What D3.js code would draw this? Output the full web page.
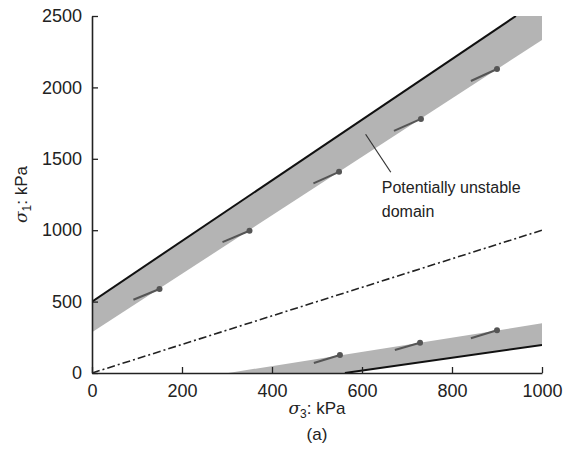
<!DOCTYPE html>
<html>
<head>
<meta charset="utf-8">
<script src="https://cdn.jsdelivr.net/npm/d3@7"></script>
<style>
  html, body { margin: 0; padding: 0; background: #fff; }
  svg { display: block; }
  text { font-family: "Liberation Sans", Arial, sans-serif; fill: #222; }
</style>
</head>
<body>
<script>
// ---- data (kPa) ----
const xTicks = [0, 200, 400, 600, 800, 1000];
const yTicks = [0, 500, 1000, 1500, 2000, 2500];

// upper failure line and grey band (sigma3, sigma1)
const upperLine = [[0, 500], [942, 2500]];
const upperBand = [[0, 500], [942, 2500], [1000, 2500], [1000, 2332], [0, 285]];
// lower failure line and grey band
const lowerLine = [[562, 0], [1000, 196]];
const lowerBand = [[303, 0], [1000, 348], [1000, 196], [562, 0]];
// isotropic line sigma1 = sigma3
const isoLine = [[0, 0], [1000, 1000]];

// stress paths: start and end (dot)
const upperStart3 = [92, 290, 492, 671, 842];
const upperStart1 = [513, 917, 1328, 1695, 2045];
const upperEnd3 = [150, 350, 549, 731, 900];
const upperEnd1 = [588, 996, 1409, 1779, 2129];
const lowerStart3 = [493, 673, 842];
const lowerStart1 = [70, 161, 243];
const lowerEnd3 = [551, 729, 900];
const lowerEnd1 = [126, 212, 299];

const annotationLines = ["Potentially unstable", "domain"];
const leader = [[608, 1672], [664, 1406]];
const annotationAnchor = [644, 1260];

// ---- layout ----
const W = 574, H = 452;
const m = { left: 92, right: 32, top: 16, bottom: 79 };

const svg = d3.select("body").append("svg").attr("width", W).attr("height", H);

const x = d3.scaleLinear().domain([0, 1000]).range([m.left, W - m.right]);
const y = d3.scaleLinear().domain([0, 2500]).range([H - m.bottom, m.top]);

svg.append("defs").append("clipPath").attr("id", "plot")
  .append("rect").attr("x", x(0)).attr("y", y(2500))
  .attr("width", x(1000) - x(0)).attr("height", y(0) - y(2500));

const g = svg.append("g").attr("clip-path", "url(#plot)");
const line = d3.line().x(d => x(d[0])).y(d => y(d[1]));

g.append("path").attr("d", line(upperBand) + "Z").attr("fill", "#b4b4b4");
g.append("path").attr("d", line(lowerBand) + "Z").attr("fill", "#b4b4b4");

g.append("path").attr("d", line(upperLine)).attr("fill", "none")
  .attr("stroke", "#111").attr("stroke-width", 2);
g.append("path").attr("d", line(lowerLine)).attr("fill", "none")
  .attr("stroke", "#111").attr("stroke-width", 2);
g.append("path").attr("d", line(isoLine)).attr("fill", "none")
  .attr("stroke", "#222").attr("stroke-width", 1.6)
  .attr("stroke-dasharray", "8,3,2,3");

function paths(s3, s1, e3, e1) {
  const data = s3.map((v, i) => ({ a: [v, s1[i]], b: [e3[i], e1[i]] }));
  g.selectAll(null).data(data).enter().append("line")
    .attr("x1", d => x(d.a[0])).attr("y1", d => y(d.a[1]))
    .attr("x2", d => x(d.b[0])).attr("y2", d => y(d.b[1]))
    .attr("stroke", "#555").attr("stroke-width", 2);
  g.selectAll(null).data(data).enter().append("circle")
    .attr("cx", d => x(d.b[0])).attr("cy", d => y(d.b[1]))
    .attr("r", 3).attr("fill", "#555");
}
paths(upperStart3, upperStart1, upperEnd3, upperEnd1);
paths(lowerStart3, lowerStart1, lowerEnd3, lowerEnd1);

// annotation
svg.append("line")
  .attr("x1", x(leader[0][0])).attr("y1", y(leader[0][1]))
  .attr("x2", x(leader[1][0])).attr("y2", y(leader[1][1]))
  .attr("stroke", "#333").attr("stroke-width", 1.2);
const at = svg.append("text").attr("x", x(annotationAnchor[0])).attr("y", y(annotationAnchor[1]))
  .attr("font-size", 16);
annotationLines.forEach((t, i) => {
  at.append("tspan").attr("x", x(annotationAnchor[0])).attr("dy", i === 0 ? 0 : 24).text(t);
});

// axes
const fmt = d3.format("d");
const xAxis = d3.axisBottom(x).tickValues(xTicks).tickFormat(fmt).tickSizeInner(-6).tickSizeOuter(0).tickPadding(11);
const yAxis = d3.axisLeft(y).tickValues(yTicks).tickFormat(fmt).tickSizeInner(-6).tickSizeOuter(0).tickPadding(10);

const gx = svg.append("g").attr("transform", `translate(0,${y(0)})`).call(xAxis);
const gy = svg.append("g").attr("transform", `translate(${x(0)},0)`).call(yAxis);
[gx, gy].forEach(a => {
  a.select(".domain").attr("stroke", "#222").attr("stroke-width", 1.6);
  a.selectAll(".tick line").attr("stroke", "#222").attr("stroke-width", 1.3);
  a.selectAll(".tick text").attr("font-size", 18).attr("fill", "#222")
    .attr("font-family", "Liberation Sans, Arial, sans-serif");
});

// axis labels
const xl = svg.append("text").attr("x", (x(0) + x(1000)) / 2).attr("y", 414)
  .attr("text-anchor", "middle").attr("font-size", 17);
xl.append("tspan").attr("font-family", "DejaVu Serif, serif").attr("font-style", "italic").text("σ");
xl.append("tspan").attr("font-size", 12).attr("dy", 4).text("3");
xl.append("tspan").attr("dy", -4).text(": kPa");

svg.append("text").attr("x", (x(0) + x(1000)) / 2).attr("y", 440)
  .attr("text-anchor", "middle").attr("font-size", 17).text("(a)");

const yl = svg.append("text").attr("transform", `translate(27,${y(1250)}) rotate(-90)`)
  .attr("text-anchor", "middle").attr("font-size", 17);
yl.append("tspan").attr("font-family", "DejaVu Serif, serif").attr("font-style", "italic").text("σ");
yl.append("tspan").attr("font-size", 12).attr("dy", 4).text("1");
yl.append("tspan").attr("dy", -4).text(": kPa");
</script>
</body>
</html>
